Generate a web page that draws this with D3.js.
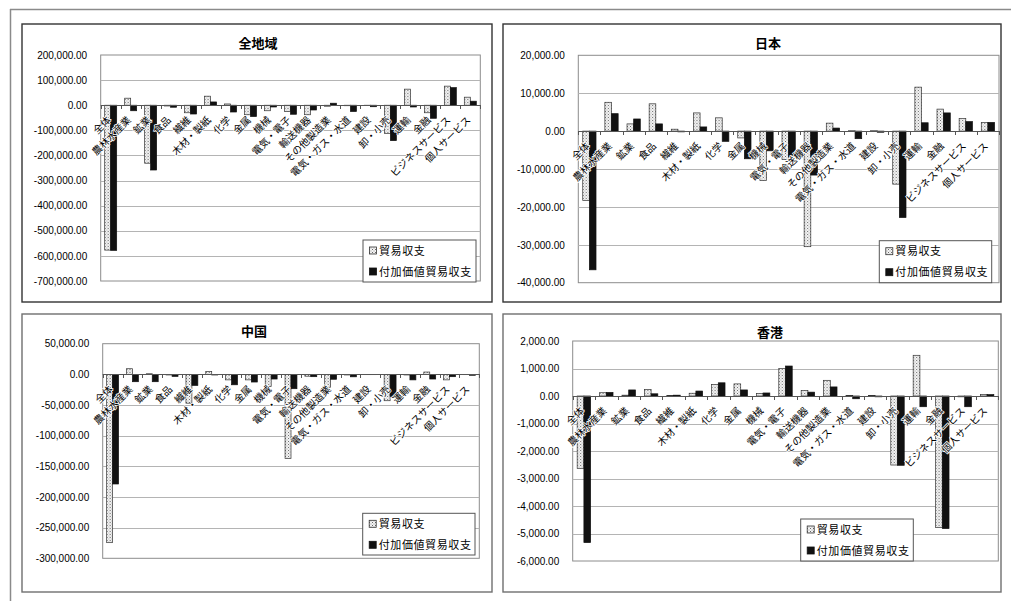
<!DOCTYPE html>
<html lang="ja">
<head>
<meta charset="utf-8">
<script src="https://cdn.jsdelivr.net/npm/d3@7"></script>
<style>
  html, body { margin: 0; padding: 0; background: #fff; }
  svg { display: block; }
  .num { font-family: "Liberation Sans", Arial, sans-serif; font-size: 10px; fill: #000; }
  .cat { font-family: "Noto Sans CJK JP", sans-serif; font-size: 10px; fill: #000; }
  .ttl { font-family: "Noto Sans CJK JP", sans-serif; font-size: 13px; font-weight: bold; fill: #000; }
  .leg { font-family: "Noto Sans CJK JP", sans-serif; font-size: 11px; fill: #000; letter-spacing: 0.6px; }
</style>
</head>
<body>
<svg id="chart" width="1011" height="601"></svg>
<script>
// Industry categories (x axis)
const categories = ["全体", "農林水産業", "鉱業", "食品", "繊維", "木材・製紙", "化学", "金属", "機械",
  "電気・電子", "輸送機器", "その他製造業", "電気・ガス・水道", "建設", "卸・小売", "運輸", "金融",
  "ビジネスサービス", "個人サービス"];

const seriesNames = ["貿易収支", "付加価値貿易収支"];

// 全地域
const worldTrade = [-577000, 28000, -231000, -3000, -30000, 36000, 5000, -38000, -22000, -25000,
  -38000, -4000, -2000, -1000, -112000, 64000, -30000, 76000, 32000];
const worldValueAdded = [-578000, -22000, -258000, -8000, -35000, 13000, -27000, -45000, -7000, -36000,
  -19000, 8000, -25000, -6000, -141000, -7000, -52000, 70000, 16000];
const worldTicks = [200000, 100000, 0, -100000, -200000, -300000, -400000, -500000, -600000, -700000];

// 日本
const japanTrade = [-18300, 7600, 1900, 7200, 500, 4800, 3500, -1800, -13000, -7500,
  -30500, 2100, 100, 100, -14000, 11600, 5800, 3300, 2300];
const japanValueAdded = [-36600, 4600, 3200, 1900, -200, 1100, -2700, -7300, -5200, -6800,
  -11600, 800, -2000, -300, -22800, 2200, 4800, 2500, 2300];
const japanTicks = [20000, 10000, 0, -10000, -20000, -30000, -40000];

// 中国
const chinaTrade = [-274500, 9200, 1000, -1000, -47000, 4900, -9000, -9000, -20000, -137000,
  -3000, -21000, -1000, -500, -43000, -1000, 3800, -9000, -500];
const chinaValueAdded = [-178800, -12000, -12000, -3300, -18000, -1000, -17000, -12500, -7600, -23400,
  -3800, -8000, -4000, -500, -36000, -9000, -7600, -3800, -1500];
const chinaTicks = [50000, 0, -50000, -100000, -150000, -200000, -250000, -300000];

// 香港
const hongKongTrade = [-2630, 120, 30, 240, 20, 100, 420, 440, 90, 1000,
  200, 570, 20, 20, -2510, 1480, -4780, -30, 50];
const hongKongValueAdded = [-5330, 130, 220, 80, 30, 180, 480, 220, 110, 1090,
  140, 330, -100, -30, -2520, -390, -4820, -390, 50];
const hongKongTicks = [2000, 1000, 0, -1000, -2000, -3000, -4000, -5000, -6000];

// Panel layout: chart frame, plot area, title and legend placement
const panels = [
  { title: "全地域", trade: worldTrade, va: worldValueAdded, ticks: worldTicks,
    frame: [22, 24, 492, 302], frameColor: "#333", plot: [100.7, 55, 480.3, 281], titleX: 258, titleY: 48,
    legend: [363, 240, 476, 282] },
  { title: "日本", trade: japanTrade, va: japanValueAdded, ticks: japanTicks,
    frame: [503, 24, 1001, 302], frameColor: "#333", plot: [578.3, 55.3, 999, 282.7], titleX: 768, titleY: 48,
    legend: [879.3, 240.7, 991.7, 282.7] },
  { title: "中国", trade: chinaTrade, va: chinaValueAdded, ticks: chinaTicks,
    frame: [22, 314, 492, 592], frameColor: "#6f6f6f", plot: [102.7, 343.7, 479.3, 558.3], titleX: 254, titleY: 336,
    legend: [362.7, 513.3, 475, 555] },
  { title: "香港", trade: hongKongTrade, va: hongKongValueAdded, ticks: hongKongTicks,
    frame: [503, 314, 1001, 592], frameColor: "#6f6f6f", plot: [572.7, 341, 998.3, 561], titleX: 770, titleY: 337,
    legend: [800.7, 519, 913.3, 561] }
];

const svg = d3.select("#chart");

// Stippled fill for the trade-balance series
const defs = svg.append("defs");
const pat = defs.append("pattern").attr("id", "dots")
  .attr("patternUnits", "userSpaceOnUse").attr("width", 3).attr("height", 3);
pat.append("rect").attr("width", 3).attr("height", 3).attr("fill", "#f4f4f4");
pat.append("rect").attr("x", 0).attr("y", 0).attr("width", 1).attr("height", 1).attr("fill", "#6a6a6a");
pat.append("rect").attr("x", 1.5).attr("y", 1.5).attr("width", 1).attr("height", 1).attr("fill", "#9a9a9a");

const fills = ["url(#dots)", "#111"];
const strokes = ["#333", "#111"];

const fmt = d3.formatLocale({ decimal: ".", thousands: ",", grouping: [3], currency: ["", ""], minus: "-" })
  .format(",.2f");

// Outer sheet border
svg.append("line").attr("x1", 10).attr("y1", 9.5).attr("x2", 1011).attr("y2", 9.5)
  .attr("stroke", "#8a8a8a").attr("stroke-width", 1.5);
svg.append("line").attr("x1", 10.5).attr("y1", 9).attr("x2", 10.5).attr("y2", 601)
  .attr("stroke", "#8a8a8a").attr("stroke-width", 1.5);

panels.forEach(p => {
  const g = svg.append("g");
  const [fx0, fy0, fx1, fy1] = p.frame;
  const [px0, py0, px1, py1] = p.plot;

  g.append("rect").attr("x", fx0).attr("y", fy0).attr("width", fx1 - fx0).attr("height", fy1 - fy0)
    .attr("fill", "#fff").attr("stroke", p.frameColor).attr("stroke-width", 1.4);

  const y = d3.scaleLinear().domain([d3.min(p.ticks), d3.max(p.ticks)]).range([py1, py0]);
  const x0 = d3.scaleBand().domain(categories).range([px0, px1]).paddingInner(0.4).paddingOuter(0.2);
  const x1 = d3.scaleBand().domain(seriesNames).range([0, x0.bandwidth()]);
  const step = x0.step();
  const zero = y(0);

  // Plot area and gridlines
  g.append("rect").attr("x", px0).attr("y", py0).attr("width", px1 - px0).attr("height", py1 - py0)
    .attr("fill", "#fff").attr("stroke", "#8c8c8c").attr("stroke-width", 1);
  g.append("g").selectAll("line").data(p.ticks.filter(t => t !== 0 && t !== d3.max(p.ticks) && t !== d3.min(p.ticks)))
    .join("line")
    .attr("x1", px0).attr("x2", px1)
    .attr("y1", d => Math.round(y(d)) + 0.5).attr("y2", d => Math.round(y(d)) + 0.5)
    .attr("stroke", "#b4b4b4").attr("stroke-width", 1);

  // Y axis labels
  const yAxis = d3.axisLeft(y).tickValues(p.ticks).tickFormat(fmt).tickSize(0).tickPadding(13.5);
  const ya = g.append("g").attr("transform", `translate(${px0},0)`).call(yAxis);
  ya.select(".domain").remove();
  ya.selectAll("text").attr("class", "num").attr("fill", null).attr("font-family", null).attr("font-size", null);

  // Bars
  const rows = categories.map((c, i) => ({ c, vals: [p.trade[i], p.va[i]] }));
  const cg = g.append("g").selectAll("g").data(rows).join("g")
    .attr("transform", d => `translate(${x0(d.c)},0)`);
  cg.selectAll("rect").data(d => d.vals.map((v, k) => ({ v, k }))).join("rect")
    .attr("x", d => x1(seriesNames[d.k]))
    .attr("width", x1.bandwidth())
    .attr("y", d => Math.min(y(d.v), zero))
    .attr("height", d => Math.abs(y(d.v) - zero))
    .attr("fill", d => fills[d.k])
    .attr("stroke", d => strokes[d.k]).attr("stroke-width", 0.7);

  // Category axis along zero with tick marks between categories
  g.append("line").attr("x1", px0).attr("x2", px1)
    .attr("y1", Math.round(zero) + 0.5).attr("y2", Math.round(zero) + 0.5)
    .attr("stroke", "#555").attr("stroke-width", 1);
  g.append("g").selectAll("line").data(d3.range(categories.length + 1)).join("line")
    .attr("x1", i => Math.round(px0 + i * step) + 0.5).attr("x2", i => Math.round(px0 + i * step) + 0.5)
    .attr("y1", Math.round(zero)).attr("y2", Math.round(zero) + 4)
    .attr("stroke", "#555").attr("stroke-width", 1);

  g.append("g").selectAll("text").data(categories).join("text")
    .attr("class", "cat")
    .attr("text-anchor", "end")
    .attr("transform", c => `translate(${x0(c) + x0.bandwidth() / 2 + 1},${zero + 15.5}) rotate(-45)`)
    .attr("stroke", "#fff").attr("stroke-width", 1.6).attr("paint-order", "stroke")
    .text(c => c);

  // Title
  g.append("text").attr("class", "ttl").attr("x", p.titleX).attr("y", p.titleY)
    .attr("text-anchor", "middle").text(p.title);

  // Legend
  const [lx0, ly0, lx1, ly1] = p.legend;
  const lg = g.append("g");
  lg.append("rect").attr("x", lx0).attr("y", ly0).attr("width", lx1 - lx0).attr("height", ly1 - ly0)
    .attr("fill", "#fff").attr("stroke", "#555").attr("stroke-width", 1);
  seriesNames.forEach((s, k) => {
    const cy = ly0 + 10.5 + k * 21;
    lg.append("rect").attr("x", lx0 + 6.5).attr("y", cy - 3.5).attr("width", 7).attr("height", 7)
      .attr("fill", fills[k]).attr("stroke", strokes[k]).attr("stroke-width", 0.8);
    lg.append("text").attr("class", "leg").attr("x", lx0 + 16).attr("y", cy + 4).text(s);
  });
});
</script>
</body>
</html>
